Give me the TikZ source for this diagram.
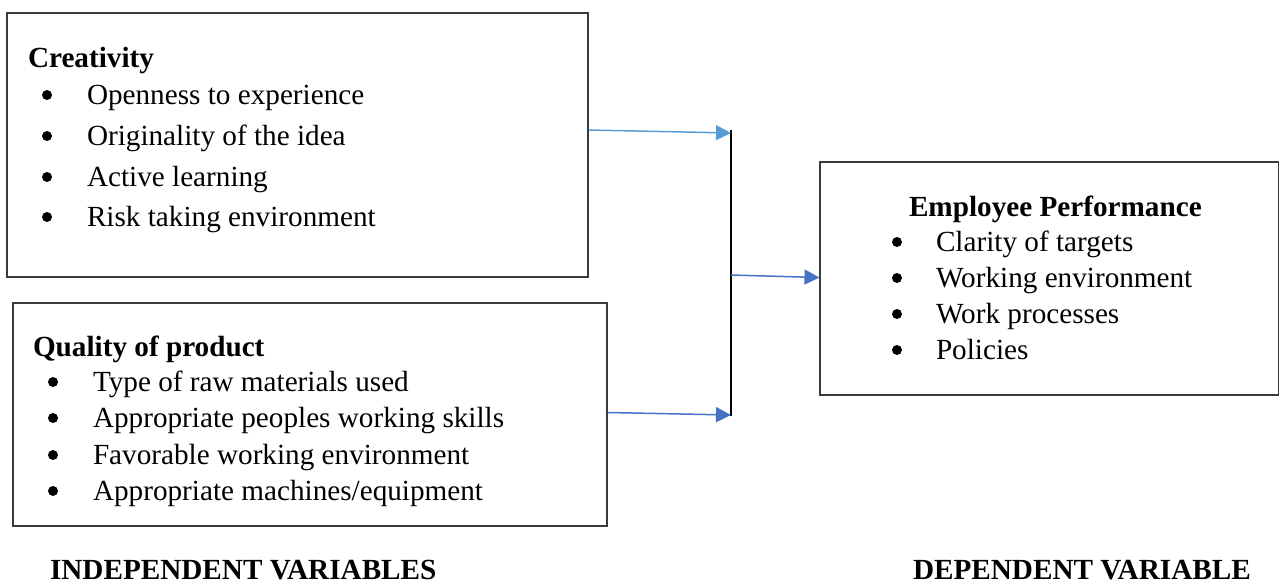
\documentclass[tikz,border=0pt]{standalone}
\usepackage{fontspec}
\setmainfont{Liberation Serif}
\usetikzlibrary{arrows.meta,fit}
\definecolor{arrowlight}{HTML}{5B9BD5}
\definecolor{arrowdark}{HTML}{4472C4}
\definecolor{frame}{HTML}{3A3A3A}
\begin{document}
\begin{tikzpicture}[x=0.5pt,y=-0.5pt,
  font=\fontsize{14.6pt}{17pt}\selectfont,
  box/.style={draw=frame,line width=0.55pt,inner sep=0pt},
  txt/.style={anchor=base west,inner sep=0pt,outer sep=0pt},
  head/.style={txt,font=\fontsize{14.6pt}{17pt}\selectfont\bfseries},
  dot/.style={circle,fill=black,inner sep=0pt,minimum size=5pt},
  link/.style={line width=0.75pt,-{Triangle[length=7.5pt,width=7.5pt]}},
  bar/.style={line width=1.1pt,black}]
\useasboundingbox (0,0) rectangle (1279,585);

% independent variable: creativity
\node[box,fit={(7,13) (588,277)}] (crea) {};
\node[head] (creaH) at (28,67) {Creativity};
\foreach \y/\t [count=\i] in {104/{Openness to experience},145/{Originality of the idea},186/{Active learning},226/{Risk taking environment}}{
  \node[dot] (creaB\i) at (47,\y-9) {};
  \node[txt] (creaT\i) at (87,\y) {\t};
}

% independent variable: quality of product
\node[box,fit={(13,303) (607,526)}] (qual) {};
\node[head] (qualH) at (33,356) {Quality of product};
\foreach \y/\t [count=\i] in {391/{Type of raw materials used},427/{Appropriate peoples working skills},464/{Favorable working environment},500/{Appropriate machines/equipment}}{
  \node[dot] (qualB\i) at (53,\y-9) {};
  \node[txt] (qualT\i) at (93,\y) {\t};
}

% dependent variable: employee performance
\node[box,fit={(820,162) (1278.5,395)}] (perf) {};
\node[head] (perfH) at (909,216) {Employee Performance};
\foreach \y/\t [count=\i] in {251/{Clarity of targets},287/{Working environment},323/{Work processes},359/{Policies}}{
  \node[dot] (perfB\i) at (897,\y-9) {};
  \node[txt] (perfT\i) at (936,\y) {\t};
}

% joining bar
\coordinate (barTop) at (731,130);
\coordinate (barBot) at (731,416);
\coordinate (inA) at (731,133);
\coordinate (outC) at (731,275);
\coordinate (inB) at (731,415);
\draw[bar] (barTop) -- (barBot);

% connectors
\draw[link,arrowlight] ([yshift=7.5pt]crea.east) -- (inA);
\draw[link,arrowdark] ([yshift=1pt]qual.east) -- (inB);
\draw[link,arrowdark] (outC) -- ([yshift=0.5pt]perf.west);

% captions
\node[head] (capIn) at (50,579) {INDEPENDENT VARIABLES};
\node[head] (capDep) at (913,579) {DEPENDENT VARIABLE};
\end{tikzpicture}
\end{document}
